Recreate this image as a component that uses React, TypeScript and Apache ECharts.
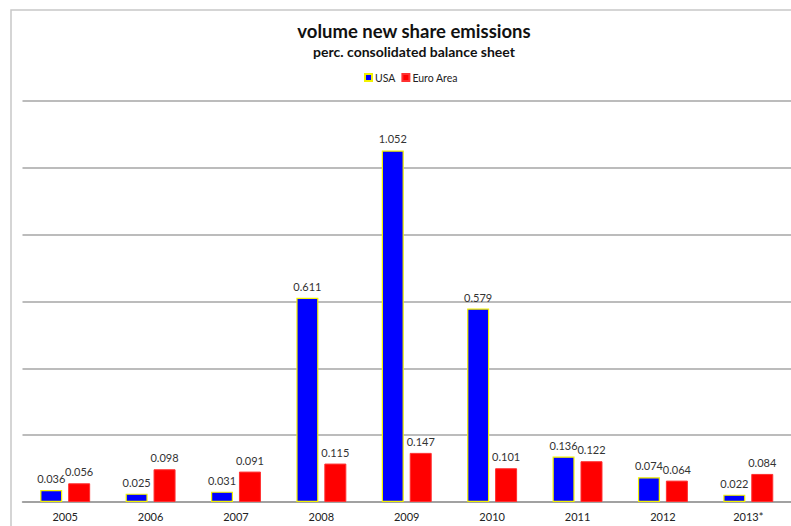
import React, { useEffect, useRef } from "react";
import * as echarts from "echarts";

const categories = ["2005", "2006", "2007", "2008", "2009", "2010", "2011", "2012", "2013*"];
const usaValues = [0.036, 0.025, 0.031, 0.611, 1.052, 0.579, 0.136, 0.074, 0.022];
const euroValues = [0.056, 0.098, 0.091, 0.115, 0.147, 0.101, 0.122, 0.064, 0.084];
const seriesNames = ["USA", "Euro Area"];

const FONT = "Lato, 'Open Sans', sans-serif";

export default function App() {
  const ref = useRef<HTMLDivElement>(null);
  useEffect(() => {
    if (!ref.current) return;
    const chart = echarts.init(ref.current, undefined, { renderer: "svg" });
    const label = {
      show: true,
      position: "top" as const,
      distance: 6,
      fontFamily: FONT,
      fontSize: 11,
      color: "#333",
      formatter: (p: any) => p.value.toFixed(3),
    };
    chart.setOption({
      animation: false,
      backgroundColor: "#fff",
      title: {
        text: "volume new share emissions",
        subtext: "perc. consolidated balance sheet",
        left: 409,
        textAlign: "center",
        top: 16,
        itemGap: 4,
        textStyle: { fontFamily: FONT, fontSize: 18.5, fontWeight: "bold", color: "#111" },
        subtextStyle: { fontFamily: FONT, fontSize: 14, fontWeight: "bold", color: "#111" },
      },
      legend: {
        data: seriesNames,
        top: 67,
        left: 359,
        itemWidth: 7,
        itemHeight: 7,
        itemGap: 6,
        icon: "rect",
        textStyle: { fontFamily: FONT, fontSize: 10.5, color: "#222", padding: [0, 0, 0, -2] },
      },
      graphic: [
        {
          type: "rect",
          shape: { x: 11, y: 10, width: 900, height: 700 },
          style: { fill: "none", stroke: "#c8c8c8", lineWidth: 1.5 },
          silent: true,
        },
      ],
      grid: { left: 22.5, right: -3.5, top: 101, bottom: 24, containLabel: false },
      xAxis: {
        type: "category",
        data: categories,
        axisTick: { show: false },
        axisLine: { show: true, lineStyle: { color: "#999", width: 1.5 } },
        axisLabel: { fontFamily: FONT, fontSize: 11, color: "#222", margin: 9 },
      },
      yAxis: {
        type: "value",
        min: 0,
        max: 1.2,
        interval: 0.2,
        axisLabel: { show: false },
        axisLine: { show: false },
        axisTick: { show: false },
        splitLine: { lineStyle: { color: "#a6a6a6", width: 1.5 } },
      },
      series: [
        {
          name: seriesNames[0],
          type: "bar",
          data: usaValues,
          barWidth: 22,
          barGap: "27%",
          itemStyle: { color: "#0000ff", borderColor: "#f2f200", borderWidth: 1.2 },
          label,
        },
        {
          name: seriesNames[1],
          type: "bar",
          data: euroValues,
          barWidth: 22,
          itemStyle: { color: "#ff0000", borderColor: "#ff3030", borderWidth: 1 },
          label,
        },
      ],
    });
    return () => chart.dispose();
  }, []);
  return (
    <div style={{ position: "fixed", left: 0, top: 0, width: 791, height: 526, overflow: "hidden" }}>
      <div ref={ref} style={{ width: 791, height: 526 }} />
    </div>
  );
}
